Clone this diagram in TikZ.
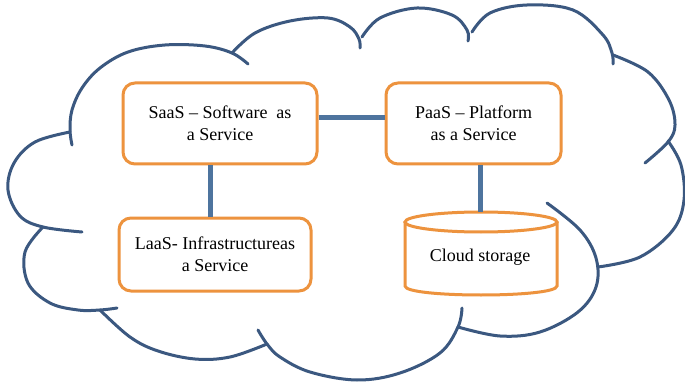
\documentclass[tikz,border=0pt]{standalone}
\usepackage{fontspec}
\setmainfont{Liberation Serif}
\definecolor{boxorange}{RGB}{237,147,62}
\definecolor{connblue}{RGB}{78,116,158}
\definecolor{cloudblue}{RGB}{59,88,128}
\begin{document}
\begin{tikzpicture}[x=1pt,y=-1pt,
  cloudline/.style={draw=cloudblue, line width=3pt, line cap=round},
  conn/.style={draw=connblue, line width=5pt},
  svcbox/.style={draw=boxorange, line width=3pt, rounded corners=12pt, fill=white,
     inner sep=0pt, align=center, font=\fontsize{18}{22}\selectfont},
  lbl/.style={inner sep=0pt, align=center, font=\fontsize{18}{22}\selectfont}]
\useasboundingbox[fill=white] (0,0) rectangle (685,382);
% cloud bumps
\draw[cloudline] plot[smooth, tension=0.6] coordinates {(72,145) (70,130) (72,110) (82,88) (100,68) (128,52) (165,45) (205,46) (232,53) (248,64)};
\draw[cloudline] plot[smooth, tension=0.6] coordinates {(232,53) (255,33) (290,21) (328,18) (350,27) (359,39) (360,48)};
\draw[cloudline] plot[smooth, tension=0.6] coordinates {(362,37) (380,18) (417,8) (452,15) (467,30) (468,41)};
\draw[cloudline] plot[smooth, tension=0.6] coordinates {(472,32) (490,13) (527,5) (573,10) (603,35) (612,53) (613,64)};
\draw[cloudline] plot[smooth, tension=0.6] coordinates {(613,55) (648,72) (669,100) (675,125) (668,142) (645,163)};
\draw[cloudline] plot[smooth, tension=0.6] coordinates {(668,141) (681,165) (684,200) (673,230) (640,257) (598,267)};
\draw[cloudline] plot[smooth, tension=0.6] coordinates {(547,203) (580,230) (596,258) (596,287) (578,312) (540,332) (500,336) (458,327)};
\draw[cloudline] plot[smooth, tension=0.6] coordinates {(462,308) (458,327) (440,353) (400,373) (357,380) (310,372) (280,357) (267,344) (258,330)};
\draw[cloudline] plot[smooth, tension=0.6] coordinates {(267,344) (230,357) (195,359) (158,351) (130,337) (100,310)};
\draw[cloudline] plot[smooth, tension=0.6] coordinates {(43,227) (25,252) (28,283) (50,303) (78,310) (100,310) (117,308)};
\draw[cloudline] plot[smooth, tension=0.6] coordinates {(70,132) (35,142) (14,163) (8,190) (20,216) (43,227) (82,232)};
% boxes
\node[svcbox, minimum width=194pt, minimum height=81pt] (saas) at (220,123.5) {SaaS – Software~~as\\a Service};
\node[svcbox, minimum width=175pt, minimum height=81pt] (paas) at (473.5,123.5) {PaaS – Platform\\as a Service};
\node[svcbox, minimum width=192pt, minimum height=73pt] (laas) at (215,254.5) {LaaS- Infrastructureas\\a Service};
% cylinder
\draw[draw=boxorange, line width=3pt, fill=white] (405,222) -- (405,286) .. controls (405,298) and (557,298) .. (557,286) -- (557,222);
\draw[draw=boxorange, line width=3pt] (481,222) ellipse [x radius=76, y radius=10];
\coordinate (cyltop) at (480,212);
\node[lbl] (cyl) at (480,257) {Cloud storage};
% connectors
\draw[conn] ([yshift=6pt]saas.east) -- ([yshift=6pt]paas.west);
\draw[conn] ([xshift=-10pt]saas.south) -- ([xshift=-10pt]saas.south |- laas.north);
\draw[conn] ([xshift=6.5pt]paas.south) -- (cyltop);
\end{tikzpicture}
\end{document}
